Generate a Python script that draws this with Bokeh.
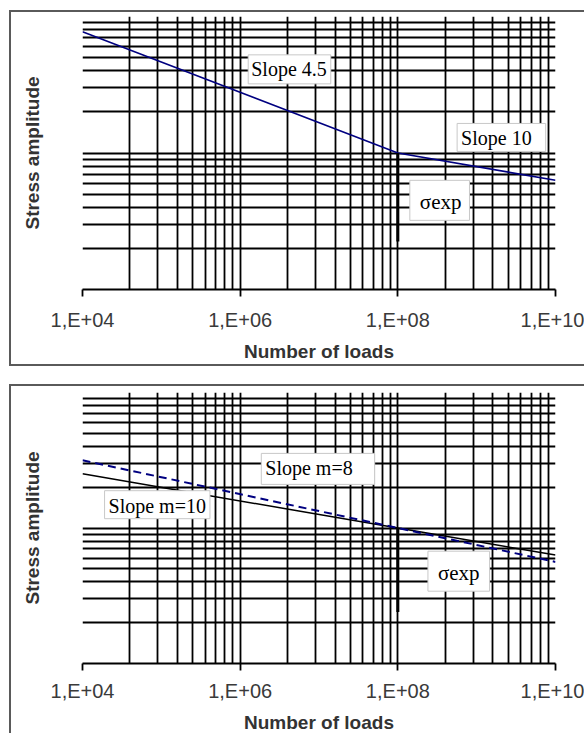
from bokeh.plotting import figure
from bokeh.models import Range1d, FixedTicker, Label
from bokeh.layouts import column
from bokeh.embed import file_html
from bokeh.resources import INLINE

# ---------------- data ----------------
x_major = [1e4, 1e6, 1e8, 1e10]
x_labels = ["1,E+04", "1,E+06", "1,E+08", "1,E+10"]
x_minor_factors = [4, 9, 16, 25, 36, 49, 64, 81]
y_grid_vals = [10, 20, 30, 40, 50, 60, 70, 80, 90,
               100, 200, 300, 400, 500, 600, 700, 800, 900, 1000]

loads = [1e4, 1e8, 1e10]
stress_top = [774, 100, 63.1]        # slope 4.5 then slope 10
stress_m8 = [316, 100, 56.2]         # slope m=8 (dashed)
stress_m10 = [251, 100, 63.1]        # slope m=10 (solid)
sigma_n = [1e8, 1e8]
sigma_top = [100, 22.5]
sigma_bottom = [100, 24]

x_grid_vals = list(x_major)
for m in x_major[:-1]:
    for f in x_minor_factors:
        x_grid_vals.append(m * f)

SANS = "Liberation Sans"
SERIF = "Liberation Serif"


def make_panel(height, margin_top, mb_top, mb_bottom, lab_standoff, title_standoff, bottom_border):
    styles = {"border-top": "2px solid #5a5a5a", "border-left": "2px solid #5a5a5a"}
    if bottom_border:
        styles["border-bottom"] = "2px solid #5a5a5a"
    p = figure(width=575, height=height, x_axis_type="log", y_axis_type="log",
               x_range=Range1d(1e4, 1e10), y_range=Range1d(10, 1000),
               output_backend="svg", toolbar_location=None,
               min_border_left=71, min_border_right=31,
               min_border_top=mb_top, min_border_bottom=mb_bottom,
               margin=(margin_top, 0, 0, 9), styles=styles)
    p.background_fill_color = "white"
    p.border_fill_color = "white"
    p.outline_line_color = None

    # grids
    p.xgrid.ticker = FixedTicker(ticks=x_grid_vals)
    p.ygrid.ticker = FixedTicker(ticks=y_grid_vals)
    for g in (p.xgrid, p.ygrid):
        g.grid_line_color = "black"
        g.grid_line_width = 1.8
        g.minor_grid_line_color = None

    # x axis
    xa = p.xaxis[0]
    xa.ticker = FixedTicker(ticks=x_major, minor_ticks=[])
    xa.major_label_overrides = {v: t for v, t in zip(x_major, x_labels)}
    xa.axis_line_color = "black"
    xa.axis_line_width = 1.8
    xa.major_tick_line_color = "black"
    xa.major_tick_line_width = 1.8
    xa.major_tick_out = 7
    xa.major_tick_in = 0
    xa.minor_tick_line_color = None
    xa.major_label_text_font = SANS
    xa.major_label_text_font_size = "20px"
    xa.major_label_text_color = "#3a3a3a"
    xa.major_label_standoff = lab_standoff
    xa.axis_label = "Number of loads"
    xa.axis_label_text_font = SANS
    xa.axis_label_text_font_size = "19px"
    xa.axis_label_text_font_style = "bold"
    xa.axis_label_text_color = "#333333"
    xa.axis_label_standoff = title_standoff

    # y axis (no ticks / labels)
    ya = p.yaxis[0]
    ya.ticker = FixedTicker(ticks=[], minor_ticks=[])
    ya.axis_line_color = None
    ya.major_tick_line_color = None
    ya.minor_tick_line_color = None
    ya.major_tick_out = 0
    ya.major_label_standoff = 0
    ya.axis_label = "Stress amplitude"
    ya.axis_label_text_font = SANS
    ya.axis_label_text_font_size = "19px"
    ya.axis_label_text_font_style = "bold"
    ya.axis_label_text_color = "#333333"
    ya.axis_label_standoff = 40
    return p


def box_label(p, x, y, text, padding, size="20px"):
    p.add_layout(Label(x=x, y=y, text=text, text_font=SERIF, text_font_size=size,
                       text_color="black", text_align="left", text_baseline="middle",
                       background_fill_color="white", border_line_color="#c8c8c8",
                       border_line_width=1, padding=padding))


# ---------------- top panel ----------------
p1 = make_panel(356, 10, 4, 79, 12, 7, True)
p1.line(loads, stress_top, line_color="#000080", line_width=1.6)
p1.line(sigma_n, sigma_top, line_color="black", line_width=3)
box_label(p1, 1.265e6, 410, "Slope 4.5", (3, 4, 3, 4))
box_label(p1, 5.65e8, 130, "Slope 10", (4, 14, 4, 2))
box_label(p1, 1.42e8, 45, "σexp", (10, 8, 10, 6), "21px")

# ---------------- bottom panel ----------------
p2 = make_panel(349, 18, 6, 68, 9, 7, False)
p2.line(loads, stress_m10, line_color="black", line_width=1.5)
p2.line(loads, stress_m8, line_color="#000080", line_width=2, line_dash="8 5")
p2.line(sigma_n, sigma_bottom, line_color="black", line_width=3)
box_label(p2, 1.854e6, 273, "Slope m=8", (4, 22, 4, 5))
box_label(p2, 1.905e4, 148.6, "Slope m=10", (4, 4, 4, 2))
box_label(p2, 2.41e8, 48, "σexp", (10, 10, 10, 6), "21px")

layout = column(p1, p2, spacing=0)
open("out.html", "w").write(file_html(layout, INLINE))
